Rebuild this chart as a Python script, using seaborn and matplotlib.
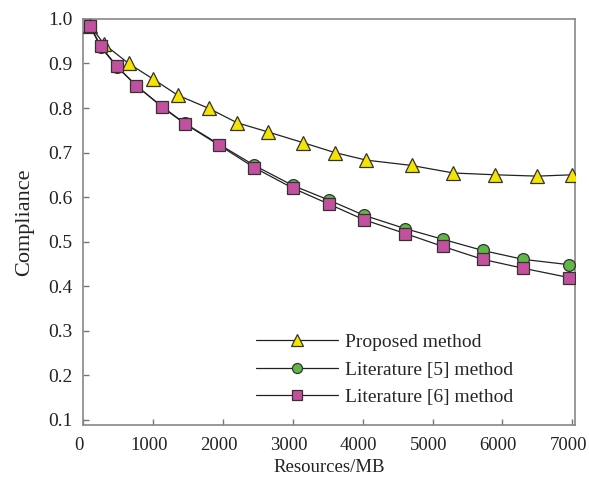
import matplotlib
matplotlib.use("Agg")
import matplotlib.pyplot as plt
from matplotlib.transforms import ScaledTranslation
import seaborn as sns
import pandas as pd

x_proposed = [100, 300, 650, 1000, 1350, 1800, 2200, 2650, 3150, 3600, 4050, 4700, 5300, 5900, 6500, 7000]
y_proposed = [0.985, 0.943, 0.900, 0.865, 0.829, 0.799, 0.767, 0.746, 0.722, 0.700, 0.683, 0.671, 0.654, 0.650, 0.647, 0.650]

x_lit = [100, 250, 480, 760, 1130, 1450, 1950, 2450, 3000, 3520, 4020, 4610, 5150, 5720, 6300, 6960]
y_lit5 = [0.983, 0.937, 0.893, 0.850, 0.803, 0.766, 0.718, 0.671, 0.626, 0.593, 0.559, 0.529, 0.505, 0.480, 0.460, 0.448]
y_lit6 = [0.984, 0.939, 0.894, 0.850, 0.802, 0.765, 0.716, 0.666, 0.620, 0.584, 0.549, 0.518, 0.489, 0.460, 0.440, 0.419]

labels = ["Proposed method", "Literature [5] method", "Literature [6] method"]
x_ticks = [0, 1000, 2000, 3000, 4000, 5000, 6000, 7000]
y_ticks = [0.1, 0.2, 0.3, 0.4, 0.5, 0.6, 0.7, 0.8, 0.9, 1.0]

sns.set_style("white")
plt.rcParams['font.family'] = ['Liberation Serif', 'DejaVu Serif']

fig = plt.figure(figsize=(5.89, 4.78), dpi=100)
ax = fig.add_axes([0.1414, 0.1109, 0.8348, 0.8494])

series = [
    (x_proposed, y_proposed, labels[0], '^', '#F5E300', 10.5),
    (x_lit, y_lit5, labels[1], 'o', '#5FB745', 8.5),
    (x_lit, y_lit6, labels[2], 's', '#C2509E', 8.5),
]
for i, (xs, ys, lab, mk, fc, ms) in enumerate(series):
    df = pd.DataFrame({"x": xs, "y": ys})
    sns.lineplot(data=df, x="x", y="y", ax=ax, color='#222222', linewidth=0.9,
                 marker=mk, markersize=ms, markerfacecolor=fc,
                 markeredgecolor='#333333', markeredgewidth=0.9,
                 label=lab, zorder=3 + i, sort=False)

ax.set_xlim(0, 7040)
ax.set_ylim(0.088, 1.0)
ax.set_xticks(x_ticks)
ax.set_yticks(y_ticks)
ax.set_yticklabels([f"{v:.1f}" for v in y_ticks])
ax.tick_params(axis='both', direction='in', length=4, width=1, colors='#777777',
               labelcolor='#222222', labelsize=14, left=True, bottom=True)
ax.tick_params(axis='x', pad=9, labelsize=13.5)
ax.tick_params(axis='y', pad=8)
shift = ScaledTranslation(-4 / 100, 0, fig.dpi_scale_trans)
for lbl in ax.get_xticklabels():
    lbl.set_transform(lbl.get_transform() + shift)
ax.set_xlabel("Resources/MB", fontsize=13.5, color='#222222', labelpad=3)
ax.set_ylabel("Compliance", fontsize=16, color='#222222', labelpad=10)
for sp in ax.spines.values():
    sp.set_color('#888888')
    sp.set_linewidth(1.2)

ax.legend(loc='upper left', bbox_to_anchor=(0.316, 0.268), frameon=False,
          fontsize=14, handlelength=4.2, handletextpad=0.35, labelspacing=0.5,
          markerscale=0.85)

fig.savefig("out.png", dpi=100)
